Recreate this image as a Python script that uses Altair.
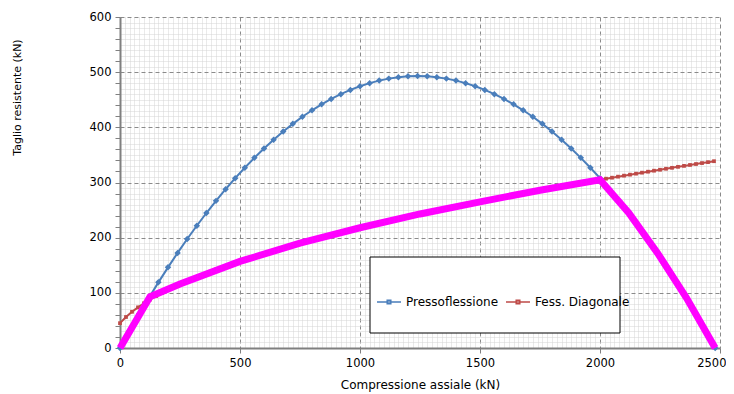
import altair as alt
import pandas as pd

# --- data ---
blue_N = list(range(0, 2481, 40))
blue_V = [0, 31.3, 61.6, 90.8, 119.0, 146.2, 172.4, 197.5, 221.6, 244.7,
          266.7, 287.8, 307.8, 326.8, 344.7, 361.6, 377.5, 392.4, 406.3, 419.1,
          430.9, 441.7, 451.4, 460.1, 467.8, 474.5, 480.1, 484.7, 488.3, 490.9,
          492.4, 493.0, 492.4, 490.9, 488.3, 484.7, 480.1, 474.5, 467.8, 460.1,
          451.4, 441.7, 430.9, 419.1, 406.3, 392.4, 377.5, 361.6, 344.7, 326.8,
          307.8, 287.8, 266.7, 244.7, 221.6, 197.5, 172.4, 146.2, 119.0, 90.8,
          61.6, 31.3, 0]

red_N = list(range(0, 2476, 25))
red_V = [45.0, 56.2, 65.6, 73.7, 81.1, 87.8, 94.1, 99.9, 105.5, 110.7,
         115.8, 120.6, 125.2, 129.7, 134.0, 138.2, 142.2, 146.2, 150.0, 153.8,
         157.4, 161.0, 164.5, 167.9, 171.3, 174.5, 177.8, 181.0, 184.1, 187.1,
         190.1, 193.1, 196.0, 198.9, 201.8, 204.5, 207.3, 210.0, 212.7, 215.4,
         218.0, 220.6, 223.2, 225.7, 228.2, 230.7, 233.2, 235.6, 238.0, 240.4,
         242.7, 245.0, 247.3, 249.6, 251.9, 254.2, 256.4, 258.6, 260.8, 263.0,
         265.1, 267.2, 269.4, 271.5, 273.6, 275.6, 277.7, 279.7, 281.7, 283.8,
         285.8, 287.7, 289.7, 291.7, 293.6, 295.6, 297.5, 299.4, 301.3, 303.2,
         305.0, 306.9, 308.7, 310.6, 312.4, 314.2, 316.0, 317.8, 319.6, 321.4,
         323.1, 324.9, 326.6, 328.4, 330.1, 331.8, 333.5, 335.2, 336.9, 338.6]

env_N = [0, 125, 250, 500, 750, 1000, 1250, 1500, 1750, 2000, 2120, 2240, 2360, 2480]
env_V = [0, 93, 116, 157, 190, 218, 243, 265, 286, 305, 245, 172, 91, 0]

series_names = ["Pressoflessione", "Fess. Diagonale"]
series_colors = ["#4A7EBB", "#BE4B48"]

df_lines = pd.concat([
    pd.DataFrame({"N": blue_N, "V": blue_V, "serie": series_names[0]}),
    pd.DataFrame({"N": red_N, "V": red_V, "serie": series_names[1]}),
])
df_blue = pd.DataFrame({"N": blue_N, "V": blue_V})
df_red = pd.DataFrame({"N": red_N, "V": red_V})
df_env = pd.DataFrame({"N": env_N, "V": env_V})

FONT = "DejaVu Sans"
x_grid_vals = list(range(0, 2501, 20))
y_grid_vals = list(range(0, 601, 10))

x_axis = alt.Axis(
    values=x_grid_vals,
    title="Compressione assiale (kN)",
    titleX=300, titleY=36, titleBaseline="middle", titleAlign="center",
    titleFont=FONT, titleFontSize=12, titleFontWeight="normal", titleColor="black",
    labelExpr="datum.value % 500 === 0 ? datum.label : ''",
    labelOverlap=False, labelFont=FONT, labelFontSize=11.5, labelColor="black",
    labelPadding=4, labelFlush=False,
    labelAlign={"condition": {"test": "datum.value === 2500", "value": "right"}, "value": "center"},
    labelOffset={"condition": {"test": "datum.value === 2500", "value": 6}, "value": 0},
    format="d",
    domainColor="#808080", domainWidth=2,
    tickColor="#808080", tickSize=5,
    tickOpacity={"condition": {"test": "datum.value % 500 === 0", "value": 1}, "value": 0},
    grid=True,
    gridColor={"condition": {"test": "datum.value % 500 === 0", "value": "#8a8a8a"}, "value": "#d4d4d4"},
    gridDash={"condition": {"test": "datum.value % 500 === 0", "value": [4, 3]}, "value": [1, 1]},
    gridWidth=1,
)
y_axis = alt.Axis(
    values=y_grid_vals,
    title="Taglio resistente (kN)",
    titleX=-103, titleY=80, titleAngle=-90, titleBaseline="middle", titleAlign="center",
    titleFont=FONT, titleFontSize=11, titleFontWeight="normal", titleColor="black",
    labelExpr="datum.value % 100 === 0 ? datum.label : ''",
    labelOverlap=False, labelFont=FONT, labelFontSize=11.5, labelColor="black",
    labelPadding=4, labelFlush=False,
    format="d",
    domainColor="#808080", domainWidth=2,
    tickColor="#808080", tickSize=5,
    tickOpacity={"condition": {"test": "datum.value % 20 === 0", "value": 1}, "value": 0},
    grid=True,
    gridColor={"condition": {"test": "datum.value % 100 === 0", "value": "#8a8a8a"}, "value": "#d4d4d4"},
    gridDash={"condition": {"test": "datum.value % 100 === 0", "value": [4, 3]}, "value": [1, 1]},
    gridWidth=1,
)

x_scale = alt.Scale(domain=[0, 2500], nice=False)
y_scale = alt.Scale(domain=[0, 600], nice=False)


def xe():
    return alt.X("N:Q", scale=x_scale, axis=x_axis)


def ye():
    return alt.Y("V:Q", scale=y_scale, axis=y_axis)


lines = alt.Chart(df_lines).mark_line(strokeWidth=2).encode(
    x=xe(),
    y=ye(),
    color=alt.Color(
        "serie:N",
        scale=alt.Scale(domain=series_names, range=series_colors),
        legend=alt.Legend(
            orient="none", legendX=256, legendY=272, direction="horizontal",
            title=None, padding=0,
            symbolType="M-1,0H1M-0.15,-0.15H0.15V0.15H-0.15Z",
            symbolSize=576, symbolStrokeWidth=1.5,
            labelFont=FONT, labelFontSize=12, labelColor="black",
            labelOffset=4, columnPadding=4,
        ),
    ),
)

pts_blue = alt.Chart(df_blue).mark_point(
    shape="diamond", filled=True, size=42, color=series_colors[0], opacity=1
).encode(x=xe(), y=ye())

pts_red = alt.Chart(df_red).mark_point(
    shape="square", filled=True, size=14, color=series_colors[1], opacity=1
).encode(x=xe(), y=ye())

envelope = alt.Chart(df_env).mark_line(
    strokeWidth=7, color="#FF00FF", clip=False
).encode(x=xe(), y=ye())

box = alt.Chart(pd.DataFrame({"a": [0]})).mark_rect(
    fill="white", stroke="black", strokeWidth=1
).encode(
    x=alt.value(250), x2=alt.value(500), y=alt.value(240), y2=alt.value(316)
)

chart = alt.layer(lines, pts_blue, pts_red, envelope, box).properties(
    width=600,
    height=331,
    autosize=alt.AutoSizeParams(type="none"),
    padding={"left": 112, "top": 9, "right": 6, "bottom": 46},
    background="white",
).configure_view(stroke=None)

chart.save("out.html", embed_options={"renderer": "svg", "actions": False})
